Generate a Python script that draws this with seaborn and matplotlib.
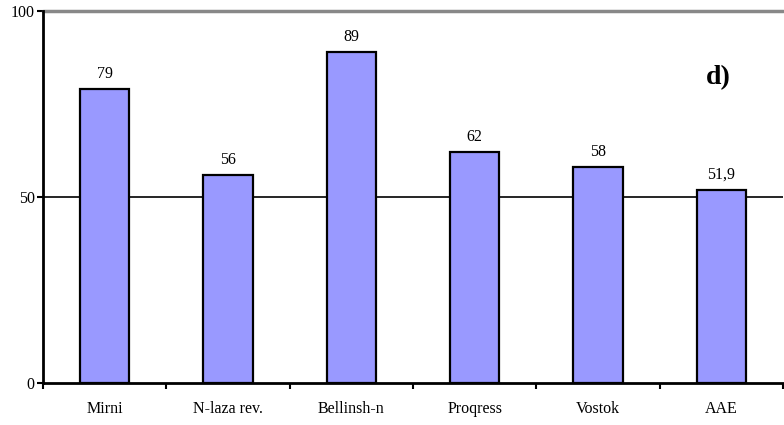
import matplotlib
matplotlib.use("Agg")
import matplotlib.pyplot as plt
import numpy as np
import pandas as pd
import seaborn as sns

# data
stations = ["Mirni", "N-laza rev.", "Bellinsh-n", "Proqress", "Vostok", "AAE"]
values = [79, 56, 89, 62, 58, 51.9]
value_labels = ["79", "56", "89", "62", "58", "51,9"]
panel_label = "d)"

df = pd.DataFrame({"station": stations, "value": values})

sns.set_style("white")
plt.rcParams["font.family"] = ["Liberation Serif", "DejaVu Serif"]
plt.rcParams["text.color"] = "black"
plt.rcParams["xtick.color"] = "black"
plt.rcParams["ytick.color"] = "black"

fig = plt.figure(figsize=(7.84, 4.25), dpi=100)
ax = fig.add_axes([43 / 784, 42 / 425, 740 / 784, 372 / 425])

sns.barplot(data=df, x="station", y="value", color="#9999FF", saturation=1,
            width=0.4, edgecolor="black", linewidth=1.6, ax=ax, zorder=3)

ax.set_xlim(-0.5, len(stations) - 0.5)
ax.set_ylim(0, 100)
ax.set_yticks([0, 50, 100])
ax.set_xlabel("")
ax.set_ylabel("")

# gridline at 50, gray line at top
ax.axhline(50, color="black", linewidth=1.2, zorder=1)
ax.axhline(100, color="#888888", linewidth=2.5, zorder=1, clip_on=False)

for s in ["top", "right"]:
    ax.spines[s].set_visible(False)
for s in ["left", "bottom"]:
    ax.spines[s].set_color("black")
    ax.spines[s].set_linewidth(2)

ax.tick_params(axis="y", direction="out", length=4, width=1.5, color="black",
               labelcolor="black", labelsize=11.5, pad=2, left=True)
ax.tick_params(axis="x", which="major", length=0, labelcolor="black",
               labelsize=11.5, pad=13)
ax.set_xticks(np.arange(-0.5, len(stations) + 0.5, 1), minor=True)
ax.tick_params(axis="x", which="minor", direction="out", length=4, width=1.5,
               color="black", bottom=True)

for i, (v, lab) in enumerate(zip(values, value_labels)):
    ax.annotate(lab, (i, v), xytext=(0, 5), textcoords="offset points",
                ha="center", va="bottom", fontsize=11.5, color="black")

ax.text(0.912, 0.82, panel_label, transform=ax.transAxes, fontsize=20,
        fontweight="bold", ha="center", va="center", color="black")

fig.savefig("out.png", dpi=100)
